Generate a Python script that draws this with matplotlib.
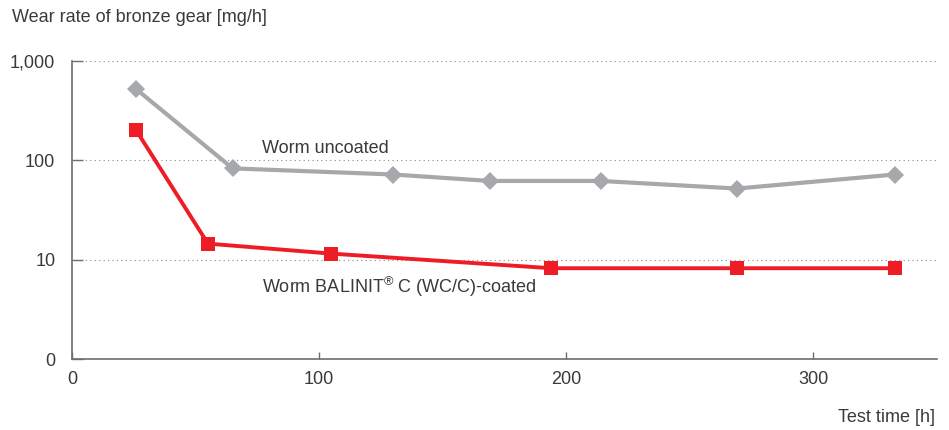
import matplotlib
matplotlib.use("Agg")
import matplotlib.pyplot as plt
from matplotlib.ticker import FixedLocator, NullLocator

plt.rcParams['font.family'] = ['Liberation Sans', 'DejaVu Sans']
plt.rcParams['mathtext.fontset'] = 'custom'
plt.rcParams['mathtext.rm'] = 'Liberation Sans'

# Test time [h] and wear rate [mg/h]
uncoated_time = [26, 65, 130, 169, 214, 269, 333]
uncoated_wear = [520, 83, 72, 62, 62, 52, 72]
coated_time = [26, 55, 105, 194, 269, 333]
coated_wear = [200, 14.5, 11.5, 8.2, 8.2, 8.2]

y_ticks = [1, 10, 100, 1000]
y_tick_labels = ["0", "10", "100", "1,000"]
x_ticks = [0, 100, 200, 300]
x_tick_labels = ["0", "100", "200", "300"]

text_color = "#3a3a3a"
gray = "#a7a8ab"
red = "#ee1c25"
fs = 13

fig = plt.figure(figsize=(9.49, 4.30), dpi=100)
ax = fig.add_axes([72 / 949, (430 - 359) / 430, (937 - 72) / 949, (359 - 61) / 430])

ax.set_yscale("log")
ax.set_xlim(0, 350)
ax.set_ylim(1, 1000)

ax.plot(uncoated_time, uncoated_wear, color=gray, lw=3.0, marker="D",
        markersize=9.5, markeredgewidth=0, zorder=3)
ax.plot(coated_time, coated_wear, color=red, lw=2.8, marker="s",
        markersize=9.5, markeredgewidth=0, zorder=4)

ax.yaxis.set_major_locator(FixedLocator(y_ticks))
ax.yaxis.set_minor_locator(NullLocator())
ax.set_yticklabels(y_tick_labels)
ax.set_xticks(x_ticks)
ax.set_xticklabels(x_tick_labels)

for s in ["top", "right"]:
    ax.spines[s].set_visible(False)
for s in ["left", "bottom"]:
    ax.spines[s].set_color("#6d6e70")
    ax.spines[s].set_linewidth(1.2)

ax.tick_params(axis="y", direction="in", length=8, width=1.0, color="#6d6e70",
               pad=12, labelsize=fs, labelcolor=text_color)
ax.tick_params(axis="x", direction="in", length=5, width=1.0, color="#6d6e70",
               pad=9, labelsize=fs, labelcolor=text_color)

ax.grid(axis="y", which="major", linestyle=(0, (1, 3)), color="#8a8a8a",
        linewidth=0.8)
ax.set_axisbelow(True)

ax.text(77, 100 * 1.08, "Worm uncoated", fontsize=fs, color=text_color,
        ha="left", va="bottom")
ax.text(77, 10 * 0.70, r"Worm BALINIT$^{\mathregular{®}}$ C (WC/C)-coated",
        fontsize=fs, color=text_color, ha="left", va="top")

fig.text(12 / 949, 1 - 17 / 430, "Wear rate of bronze gear [mg/h]", fontsize=fs,
         color=text_color, ha="left", va="center")
fig.text(935 / 949, 1 - 418 / 430, "Test time [h]", fontsize=fs,
         color=text_color, ha="right", va="center")

fig.savefig("out.png", dpi=100)
